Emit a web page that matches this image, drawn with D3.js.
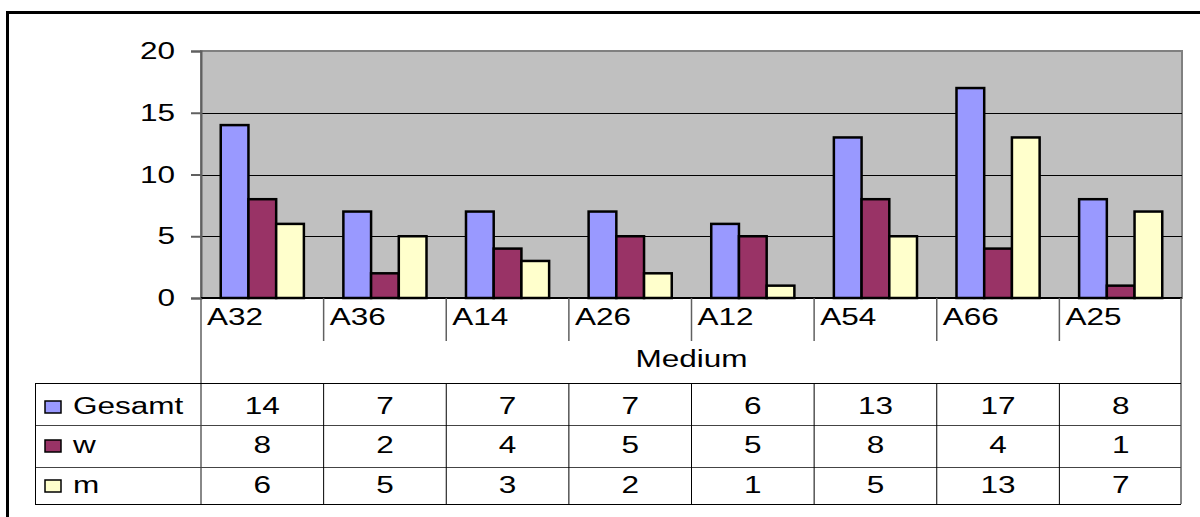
<!DOCTYPE html>
<html><head><meta charset="utf-8">
<script src="https://cdn.jsdelivr.net/npm/d3@7"></script>
<style>html,body{margin:0;padding:0;background:#fff;overflow:hidden}svg{display:block}</style>
</head><body>
<svg id="c" width="1200" height="517"></svg>
<script>
const categories = ["A32","A36","A14","A26","A12","A54","A66","A25"];
const seriesNames = ["Gesamt","w","m"];
const gesamt = [14,7,7,7,6,13,17,8];
const w = [8,2,4,5,5,8,4,1];
const m = [6,5,3,2,1,5,13,7];
const seriesValues = [gesamt, w, m];
const colors = ["#9999FF","#993366","#FFFFCC"];
const yTicks = [0,5,10,15,20];
const axisTitle = "Medium";

const svg = d3.select("#c");
const FS = 23, SX = 1.37, FONT = "'Liberation Sans', Arial, sans-serif";
const L = 201, R = 1182, T = 51, B = 298;

function txt(g, x, y, s, anchor) {
  return g.append("text")
    .attr("transform", `translate(${x},${y}) scale(${SX},1)`)
    .attr("text-anchor", anchor || "start")
    .attr("font-family", FONT).attr("font-size", FS).attr("fill", "#000")
    .text(s);
}

// outer border (left and top visible, rest outside the view)
svg.append("rect").attr("x", 7.5).attr("y", 12.5).attr("width", 1400).attr("height", 700)
  .attr("fill", "#fff").attr("stroke", "#000").attr("stroke-width", 3);

const x0 = d3.scaleBand().domain(categories).range([L, R]).padding(0);
const bw = x0.bandwidth();
const x1 = d3.scaleBand().domain(seriesNames).range([bw*0.161, bw*0.839]).padding(0);
const y = d3.scaleLinear().domain([0, 20]).range([B, T]);

// plot area
svg.append("rect").attr("x", L).attr("y", T).attr("width", R - L).attr("height", B - T)
  .attr("fill", "#C0C0C0").attr("stroke", "#808080").attr("stroke-width", 2);

// gridlines
svg.append("g").selectAll("line").data(yTicks.filter(v => v > 0 && v < 20)).join("line")
  .attr("x1", L).attr("x2", R).attr("y1", d => Math.round(y(d)) + 0.5).attr("y2", d => Math.round(y(d)) + 0.5)
  .attr("stroke", "#000").attr("stroke-width", 1);

// y axis
const ya = svg.append("g").attr("transform", `translate(${L},0)`)
  .call(d3.axisLeft(y).tickValues(yTicks).tickSize(10).tickPadding(0).tickFormat(""));
ya.select(".domain").attr("stroke", "#606060").attr("stroke-width", 2);
ya.selectAll(".tick line").attr("stroke", "#606060").attr("stroke-width", 2);
const yl = svg.append("g");
yTicks.forEach(v => txt(yl, 175, y(v) + 8, String(v), "end"));

// bars
const groups = svg.append("g").selectAll("g").data(categories).join("g")
  .attr("transform", d => `translate(${x0(d)},0)`);
groups.selectAll("rect").data((d, i) => seriesNames.map((s, k) => ({s, k, v: seriesValues[k][i]}))).join("rect")
  .attr("x", d => x1(d.s)).attr("width", x1.bandwidth())
  .attr("y", d => y(d.v)).attr("height", d => y(0) - y(d.v))
  .attr("fill", d => colors[d.k]).attr("stroke", "#000").attr("stroke-width", 2.5);

// x axis line
svg.append("line").attr("x1", L).attr("x2", R).attr("y1", B).attr("y2", B).attr("stroke", "#000").attr("stroke-width", 2);

// category labels and separators
const cg = svg.append("g");
categories.forEach((c, i) => {
  txt(cg, x0(c) + 6, 325, c, "start");
  if (i > 0) cg.append("line").attr("x1", x0(c)).attr("x2", x0(c)).attr("y1", B).attr("y2", 341)
    .attr("stroke", "#606060").attr("stroke-width", 1.5);
});
// left vertical line down through table
svg.append("line").attr("x1", L).attr("x2", L).attr("y1", B).attr("y2", 504).attr("stroke", "#606060").attr("stroke-width", 1.5);
// right vertical line
svg.append("line").attr("x1", 1181).attr("x2", 1181).attr("y1", B).attr("y2", 504).attr("stroke", "#606060").attr("stroke-width", 1.5);

txt(svg, (L + R) / 2, 367, axisTitle, "middle");

// data table
const rowLines = [383, 425, 467, 504];
const tg = svg.append("g");
rowLines.forEach((ry, i) => {
  tg.append("line").attr("x1", 35).attr("x2", 1181).attr("y1", ry + 0.5).attr("y2", ry + 0.5)
    .attr("stroke", i === 0 || i === 3 ? "#000" : "#444").attr("stroke-width", 1);
});
tg.append("line").attr("x1", 35.5).attr("x2", 35.5).attr("y1", 383).attr("y2", 504).attr("stroke", "#000").attr("stroke-width", 1);
categories.forEach((c, i) => {
  if (i > 0) tg.append("line").attr("x1", x0(c)).attr("x2", x0(c)).attr("y1", 383).attr("y2", 504)
    .attr("stroke", "#000").attr("stroke-width", 1);
});
const baselines = [414, 453, 493];
seriesNames.forEach((s, k) => {
  const yb = baselines[k];
  tg.append("rect").attr("x", 45).attr("y", yb - 13).attr("width", 16).attr("height", 12)
    .attr("fill", colors[k]).attr("stroke", "#000").attr("stroke-width", 1.5);
  txt(tg, 73, yb, s, "start");
  categories.forEach((c, i) => {
    txt(tg, x0(c) + bw / 2, yb, String(seriesValues[k][i]), "middle");
  });
});
</script>
</body></html>
